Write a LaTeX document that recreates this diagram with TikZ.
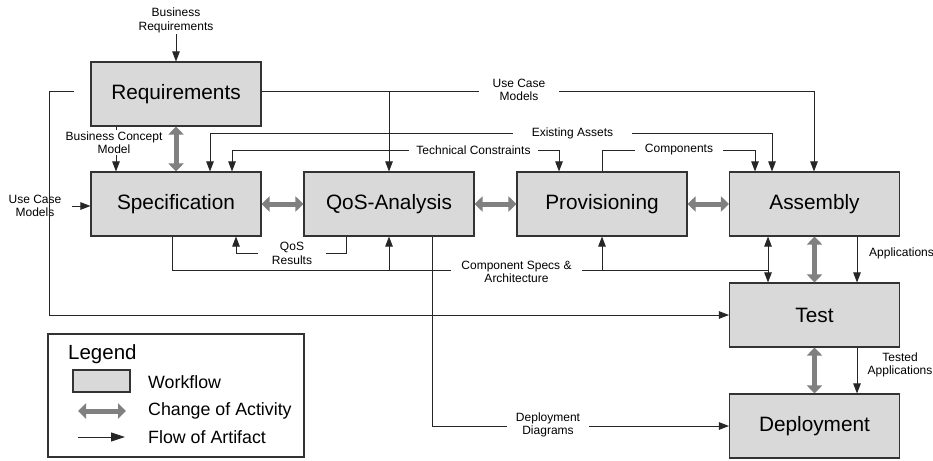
\documentclass[tikz,border=0pt]{standalone}
\usepackage{fontspec}
\setmainfont{Liberation Sans}
\usetikzlibrary{arrows.meta}
\definecolor{boxfill}{RGB}{217,217,217}
\definecolor{chggray}{RGB}{128,128,128}
\tikzset{
  wf/.style={draw=black!80, line width=1.1pt, fill=boxfill, minimum width=170pt, minimum height=64pt, inner sep=0pt, font=\fontsize{20.8}{24}\selectfont},
  chg/.style={draw=chggray, line width=5pt, {Triangle[width=15pt,length=8pt]}-{Triangle[width=15pt,length=8pt]}},
  flow/.style={draw=black!85, line width=0.85pt, -{Triangle[width=7.5pt,length=10pt]}},
  flowb/.style={draw=black!85, line width=0.85pt, {Triangle[width=7.5pt,length=10pt]}-{Triangle[width=7.5pt,length=10pt]}},
  plain/.style={draw=black!85, line width=0.85pt},
  lbl/.style={fill=white, font=\fontsize{12}{13.5}\selectfont, align=center, inner ysep=1pt},
  legtext/.style={anchor=west, inner sep=0pt, font=\fontsize{17.8}{20}\selectfont}
}
\begin{document}
\begin{tikzpicture}[x=1pt,y=-1pt]
\useasboundingbox (0,0) rectangle (933,460);

% workflow boxes
\node[wf] (req)  at (176,94)    {Requirements};
\node[wf] (spec) at (176,204)   {Specification};
\node[wf] (qos)  at (389,204)   {QoS-Analysis};
\node[wf] (prov) at (602,204)   {Provisioning};
\node[wf] (asm)  at (814.5,204) {Assembly};
\node[wf] (test) at (814.5,315) {Test};
\node[wf] (dep)  at (814.5,426) {Deployment};

% change of activity
\draw[chg] (req.south) -- (spec.north);
\draw[chg] (spec.east) -- (qos.west);
\draw[chg] (qos.east) -- (prov.west);
\draw[chg] (prov.east) -- (asm.west);
\draw[chg] (asm.south) -- (test.north);
\draw[chg] (test.south) -- (dep.north);

% free ends
\node[lbl, fill=none] (brlab) at (176,20.5) {Business\\Requirements};
\node[lbl, fill=none, inner xsep=0pt] (uclleft) at (35,206) {Use Case\\Models};
\coordinate (loopstart) at (74,91);

% flows of artifacts
\draw[flow] (brlab.south) -- (req.north);
\draw[flow] (loopstart) -- (49,91) |- (test.west);
\draw[flow] ([xshift=10pt]uclleft.east) -- (uclleft.east -| spec.west);
\draw[flow] (req.south -| 116,0) -- (spec.north -| 116,0);
\draw[flowb] (spec.north -| 210,0) -- (210,133) -- (772,133) -- (asm.north -| 772,0);
\draw[flowb] (spec.north -| 232,0) -- (232,150) -- (559,150) -- (prov.north -| 559,0);
\draw[flow] (req.east |- 0,91) -- (814,91) -- (asm.north -| 814,0);
\draw[flow] (389,91) -- (qos.north);
\draw[flow] (prov.north) -- (602,150) -- (755,150) -- (asm.north -| 755,0);
\draw[flow] (qos.south -| 346,0) -- (346,253) -- (236,253) -- (spec.south -| 236,0);
\draw[plain] (spec.south -| 172,0) -- (172,270) -- (768,270);
\draw[flow] (389,270) -- (qos.south);
\draw[flow] (602,270) -- (prov.south);
\draw[flowb] (asm.south -| 768,0) -- (test.north -| 768,0);
\draw[flow] (qos.south -| 432,0) -- (432,426) -- (dep.west);
\draw[flow] (asm.south -| 857,0) -- (test.north -| 857,0);
\draw[flow] (test.south -| 857,0) -- (dep.north -| 857,0);

% labels on connectors
\node[lbl, inner xsep=2pt] at (114,142.5) {Business Concept\\Model};
\node[lbl, inner xsep=19pt] at (572.5,133) {Existing Assets};
\node[lbl, inner xsep=7pt] at (473.5,150) {Technical Constraints};
\node[lbl, inner xsep=14pt] at (519,90) {Use Case\\Models};
\node[lbl, inner xsep=10pt] at (679,150) {Components};
\node[lbl, inner xsep=14pt] at (292,253.5) {QoS\\Results};
\node[lbl, inner xsep=10pt] at (516.5,271.7) {Component Specs \&\\Architecture};
\node[lbl, inner xsep=9pt] at (548,425) {Deployment\\Diagrams};
\node[lbl, anchor=west, inner xsep=0pt] at (869,253.5) {Applications};
\node[lbl, inner xsep=0pt] at (900,365) {Tested\\Applications};

% legend
\node[draw=black!80, line width=1.1pt, minimum width=256pt, minimum height=123pt, inner sep=0pt] (legend) at (176,395.5) {};
\node[anchor=west, inner sep=0pt, font=\fontsize{20.5}{24}\selectfont] (legtitle) at (68,354) {Legend};
\node[draw=black!80, line width=1.1pt, fill=boxfill, minimum width=57pt, minimum height=22pt, inner sep=0pt] (legbox) at (101.5,381) {};
\node[legtext] (legwf) at (148,382) {Workflow};
\coordinate (legchgA) at (78,411);
\coordinate (legchgB) at (126,411);
\draw[chg] (legchgA) -- (legchgB);
\node[legtext] (legchg) at (148,411) {Change of Activity};
\coordinate (legflowA) at (78,437);
\coordinate (legflowB) at (125,437);
\draw[draw=black!85, line width=0.85pt, -{Triangle[width=9pt,length=14pt]}] (legflowA) -- (legflowB);
\node[legtext] (legflow) at (148,437) {Flow of Artifact};
\end{tikzpicture}
\end{document}
